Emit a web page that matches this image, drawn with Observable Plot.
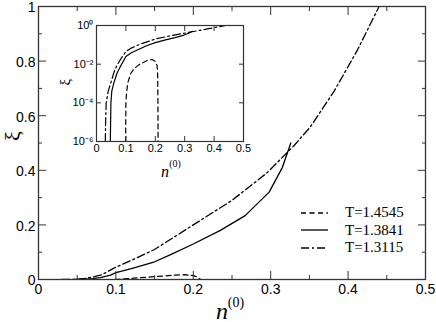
<!DOCTYPE html>
<html><head><meta charset="utf-8">
<script src="https://cdn.jsdelivr.net/npm/d3@7"></script>
<script src="https://cdn.jsdelivr.net/npm/@observablehq/plot@0.6"></script>
<style>
body{margin:0;background:#fff;}
#wrap{position:relative;width:436px;height:322px;overflow:hidden;}
#inset{position:absolute;left:56px;top:15px;}
#legend{position:absolute;left:301px;top:204px;font:15px "Liberation Serif","Times New Roman",serif;color:#000;}
#legend div{height:17.5px;display:flex;align-items:center;}
#legend svg{margin-right:17px;}
</style></head><body><div id="wrap"><div id="inset"></div><div id="legend"></div></div>
<script>
// T=1.4545 (dashed)
const nT14545 = [0.099, 0.1, 0.102, 0.106, 0.115, 0.127, 0.145, 0.161, 0.175, 0.189, 0.2, 0.206, 0.208, 0.209, 0.2095];
const xiT14545 = [1e-6, 1e-4, 3e-4, 1e-3, 3e-3, 5.7e-3, 9.5e-3, 0.0126, 0.016, 0.0174, 0.014, 0.0085, 3e-3, 1e-4, 1e-6];
// T=1.3841 (solid)
const nT13841 = [0.047, 0.048, 0.049, 0.052, 0.06, 0.07, 0.08, 0.093, 0.1, 0.12, 0.15, 0.17, 0.2, 0.235, 0.267, 0.298, 0.315, 0.326];
const xiT13841 = [1e-6, 1e-5, 1e-4, 4e-4, 1.2e-3, 3.5e-3, 7e-3, 0.016, 0.025, 0.04, 0.065, 0.09, 0.13, 0.18, 0.234, 0.32, 0.41, 0.5];
// T=1.3115 (dash-dot)
const nT13115 = [0.03, 0.031, 0.033, 0.04, 0.048, 0.06, 0.07, 0.082, 0.1, 0.12, 0.15, 0.2, 0.25, 0.295, 0.33, 0.351, 0.382, 0.412, 0.44];
const xiT13115 = [1e-6, 1e-5, 1e-4, 4e-4, 1e-3, 4e-3, 9e-3, 0.018, 0.045, 0.07, 0.11, 0.2, 0.29, 0.39, 0.49, 0.558, 0.69, 0.84, 1.0];

const seriesNames = ["T=1.4545", "T=1.3841", "T=1.3115"];
const seriesDash = ["5,3.5", null, "8,3,2,3"];

const xMajor = [0, 0.1, 0.2, 0.3, 0.4, 0.5];
const xMajorLabels = ["0", "0.1", "0.2", "0.3", "0.4", "0.5"];
const xMinor = [0.05, 0.15, 0.25, 0.35, 0.45];
const yMajor = [0, 0.2, 0.4, 0.6, 0.8, 1];
const yMajorLabels = ["0", "0.2", "0.4", "0.6", "0.8", "1"];
const yMinor = [0.1, 0.3, 0.5, 0.7, 0.9];

const insetXTicks = [0, 0.1, 0.2, 0.3, 0.4, 0.5];
const insetXLabels = ["0", "0.1", "0.2", "0.3", "0.4", "0.5"];
const insetYTicks = [1e-6, 1e-4, 1e-2, 1];
const insetYLabels = ["10\u207B\u2076", "10\u207B\u2074", "10\u207B\u00B2", "10\u2070"];

const series = [
  {name: seriesNames[0], n: nT14545, xi: xiT14545, dash: seriesDash[0]},
  {name: seriesNames[1], n: nT13841, xi: xiT13841, dash: seriesDash[1]},
  {name: seriesNames[2], n: nT13115, xi: xiT13115, dash: seriesDash[2]}
];
const rows = s => s.n.map((v, i) => ({n: v, xi: s.xi[i]}));

const SANS = '"Liberation Sans", Arial, Helvetica, sans-serif';
const SERIF = '"Liberation Serif", "Times New Roman", serif';

function frameTicks(xt, yt, len, extra = {}) {
  return [
    Plot.axisX(xt, {anchor: "bottom", tickSize: -len, fill: "none", label: null, ...extra}),
    Plot.axisX(xt, {anchor: "top", tickSize: -len, fill: "none", label: null, ...extra}),
    Plot.axisY(yt, {anchor: "left", tickSize: -len, fill: "none", label: null, ...extra}),
    Plot.axisY(yt, {anchor: "right", tickSize: -len, fill: "none", label: null, ...extra})
  ];
}

const main = Plot.plot({
  width: 436, height: 322,
  marginLeft: 38, marginRight: 11, marginTop: 6, marginBottom: 43,
  style: {fontFamily: SANS, background: "transparent", color: "#000"},
  x: {domain: [0, 0.5]},
  y: {domain: [0, 1]},
  marks: [
    ...series.map(s => Plot.line(rows(s), {x: "n", y: "xi", stroke: "#000", strokeWidth: 1.3, strokeDasharray: s.dash, clip: true})),
    Plot.frame({stroke: "#333", strokeWidth: 1.3}),
    ...frameTicks(xMajor, yMajor, 8, {stroke: "#333"}),
    ...frameTicks(xMinor, yMinor, 4, {stroke: "#333"}),
    Plot.axisX(xMajor, {anchor: "bottom", tickSize: 0, tickPadding: 5, fontSize: 14, label: null,
      tickFormat: d => xMajorLabels[xMajor.indexOf(d)]}),
    Plot.axisY(yMajor, {anchor: "left", tickSize: 0, tickPadding: 3, fontSize: 14, label: null, dy: 1.5,
      tickFormat: d => yMajorLabels[yMajor.indexOf(d)]}),
    Plot.text(["n"], {text: d => d, frameAnchor: "bottom", dx: -10, dy: 39, fontSize: 24, fontStyle: "italic", fontFamily: SERIF}),
    Plot.text(["(0)"], {text: d => d, frameAnchor: "bottom", dx: 4, dy: 27, fontSize: 14, fontFamily: SERIF}),
    Plot.text(["\u03BE"], {text: d => d, frameAnchor: "left", dx: -26, dy: -2, rotate: -90, fontSize: 22, fontFamily: SERIF})
  ]
});
document.getElementById("wrap").prepend(main);

const inset = Plot.plot({
  width: 195, height: 166,
  marginLeft: 40, marginRight: 8, marginTop: 10, marginBottom: 40,
  style: {fontFamily: SANS, background: "white", color: "#000"},
  x: {domain: [0, 0.5]},
  y: {type: "log", domain: [1e-6, 1]},
  marks: [
    ...series.map(s => Plot.line(rows(s), {x: "n", y: "xi", stroke: "#000", strokeWidth: 1.2, strokeDasharray: s.dash, clip: true})),
    Plot.frame({stroke: "#333", strokeWidth: 1.2}),
    ...frameTicks(insetXTicks, insetYTicks, 5, {stroke: "#333"}),
    Plot.axisX(insetXTicks, {anchor: "bottom", tickSize: 0, tickPadding: 3, fontSize: 11, label: null,
      tickFormat: d => insetXLabels[insetXTicks.indexOf(d)]}),
    Plot.axisY(insetYTicks, {anchor: "left", tickSize: 0, tickPadding: 3, fontSize: 11, label: null,
      tickFormat: d => insetYLabels[insetYTicks.indexOf(d)]}),
    Plot.text(["n"], {text: d => d, frameAnchor: "bottom", dx: -5, dy: 35, fontSize: 16, fontStyle: "italic", fontFamily: SERIF}),
    Plot.text(["(0)"], {text: d => d, frameAnchor: "bottom", dx: 5, dy: 25, fontSize: 10, fontFamily: SERIF}),
    Plot.text(["\u03BE"], {text: d => d, frameAnchor: "left", dx: -31, dy: 2, rotate: -90, fontSize: 15, fontFamily: SERIF})
  ]
});
document.getElementById("inset").append(inset);

const legend = document.getElementById("legend");
series.forEach(s => {
  const row = document.createElement("div");
  row.innerHTML = `<svg width="27" height="4"><line x1="0" y1="2" x2="27" y2="2" stroke="#000" stroke-width="1.3" ${s.dash ? `stroke-dasharray="${s.dash}"` : ""}/></svg><span>${s.name}</span>`;
  legend.append(row);
});
</script>
</body></html>
